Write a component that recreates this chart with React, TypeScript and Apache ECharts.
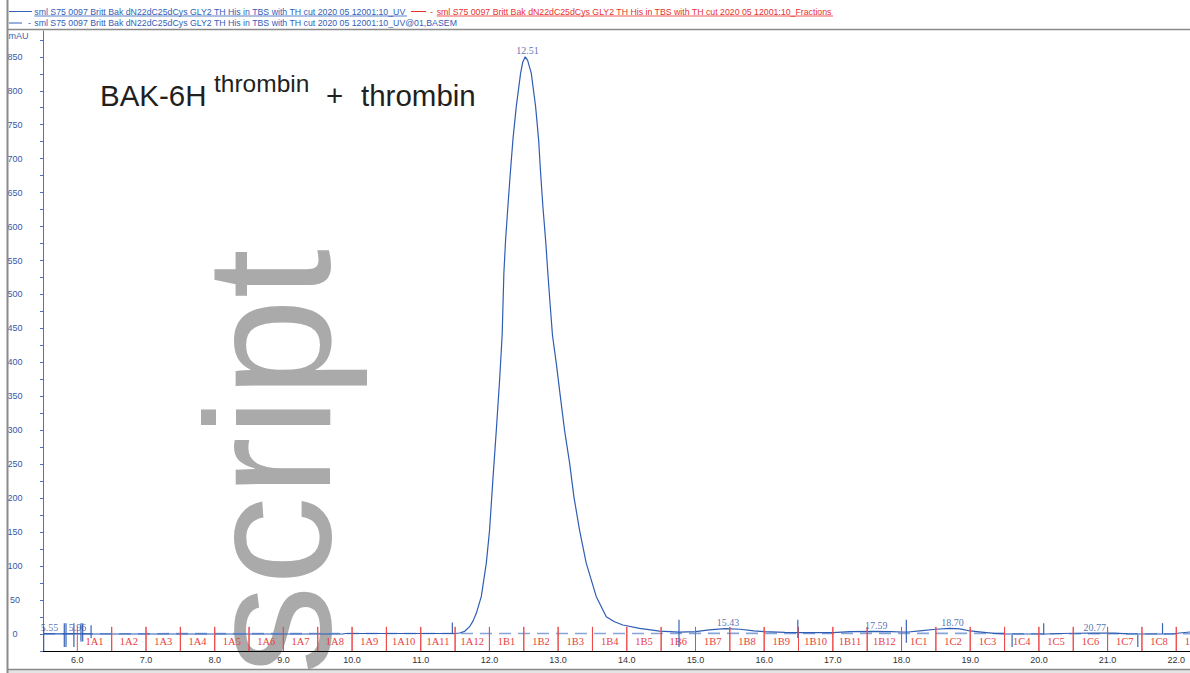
import React, { useEffect, useRef } from "react";
import * as echarts from "echarts";

// ---- data ----
const uvX = [5.5, 5.55, 5.7, 5.96, 6.2, 7.0, 8.0, 9.0, 9.87, 9.9, 11.0, 11.46, 11.5, 11.565, 11.64, 11.711, 11.76, 11.809, 11.881, 11.954, 12.002, 12.05, 12.1, 12.148, 12.185, 12.21, 12.235, 12.269, 12.304, 12.342, 12.391, 12.454, 12.485, 12.52, 12.555, 12.609, 12.672, 12.716, 12.745, 12.778, 12.818, 12.851, 12.886, 12.918, 12.973, 13.032, 13.094, 13.167, 13.23, 13.312, 13.41, 13.556, 13.701, 13.82, 13.943, 14.186, 14.477, 14.768, 15.0, 15.2, 15.43, 15.65, 15.85, 16.0, 16.3, 16.5, 17.0, 17.25, 17.59, 17.85, 18.0, 18.1, 18.3, 18.5, 18.7, 18.85, 19.0, 19.2, 19.35, 19.5, 19.6, 20.1, 20.3, 20.77, 21.1, 21.3, 21.5, 21.95, 22.05, 22.2];
const uvY = [0.3, 0.6, 0.2, 0.6, 0.2, 0, 0, 0, 0, 0.8, 0.8, 0.8, 0.8, 1.5, 4, 10.8, 19, 30.5, 55, 104, 153, 227, 300, 374, 440, 531, 580, 630, 679, 728, 777, 826, 842, 850, 845, 826, 777, 728, 679, 630, 580, 531, 482, 440, 399, 350, 300, 252, 202, 153, 104, 55, 25.5, 18, 13.3, 8.4, 4.4, 2.8, 3.5, 6, 8, 7, 4.5, 3.4, 2.5, 2, 2.2, 3.4, 4, 3.5, 3, 3, 5, 7, 8.4, 7.5, 4.5, 2.5, 1, 0.3, 0, 0, 0.8, 1.5, 1.2, 0.3, 0, 0, 1.5, 3];

const baseX = [5.5, 11.46, 19.5, 19.6, 22.2];
const baseY = [0.4, 0.8, 1.0, 0.3, 0.3];

const peakX = [5.55, 5.96, 12.51, 15.43, 17.59, 18.7, 20.77];
const peakY = [0.6, 0.6, 850, 8, 4.2, 8.4, 1.5];

const markerPos = [5.51, 5.81, 5.835, 5.95, 6.053, 6.078, 6.2, 11.46, 14.76, 16.49, 18.07, 19.61, 20.07, 21.44, 21.8];
const markerTop = [11, 16, 16, 16, 16, 16, 13, 17, 21, 21, 21, -1.5, 16, -1.5, 16];
const markerBottom = [-25, -19, -19, -19, -11, -11, -6, 1, -19, -6, -13, -19, -1.5, -19, 0];

const fractionNames = ["1A1", "1A2", "1A3", "1A4", "1A5", "1A6", "1A7", "1A8", "1A9", "1A10", "1A11", "1A12", "1B1", "1B2", "1B3", "1B4", "1B5", "1B6", "1B7", "1B8", "1B9", "1B10", "1B11", "1B12", "1C1", "1C2", "1C3", "1C4", "1C5", "1C6", "1C7", "1C8", "1C9"];
const fractionEdges = [6.0, 6.5, 7.0, 7.5, 8.0, 8.5, 9.0, 9.5, 10.0, 10.5, 11.0, 11.5, 12.0, 12.5, 13.0, 13.5, 14.0, 14.5, 15.0, 15.5, 16.0, 16.5, 17.0, 17.5, 18.0, 18.5, 19.0, 19.5, 20.0, 20.5, 21.0, 21.5, 22.0, 22.5];
const fractionTickTop = 10.5;
const fractionTickBottom = -25;
const fractionLabelLevel = -11.5;

const legendUV = "sml S75 0097 Britt Bak dN22dC25dCys GLY2 TH His in TBS with TH cut 2020 05 12001:10_UV";
const legendFrac = "sml S75 0097 Britt Bak dN22dC25dCys GLY2 TH His in TBS with TH cut 2020 05 12001:10_Fractions";
const legendBase = "sml S75 0097 Britt Bak dN22dC25dCys GLY2 TH His in TBS with TH cut 2020 05 12001:10_UV@01,BASEM";

const BLUE = "#3360b8";
const RED = "#e8322f";
const SANS = "Arial, 'Liberation Sans', sans-serif";
const SERIF = "'Liberation Serif', 'Times New Roman', serif";

function txt(x: number, y: number, text: string, font: string, fill: string, align = "left", valign = "middle", extra: any = {}) {
  return {
    type: "text",
    x,
    y,
    ...extra,
    style: { text, font, fill, align, textAlign: align, verticalAlign: valign, textVerticalAlign: valign },
  };
}
function ln(x1: number, y1: number, x2: number, y2: number, stroke: string, lineWidth = 1, z = 10) {
  return { type: "line", z, shape: { x1, y1, x2, y2 }, style: { stroke, lineWidth } };
}

export default function App() {
  const ref = useRef<HTMLDivElement>(null);
  useEffect(() => {
    if (!ref.current) return;
    const chart = echarts.init(ref.current, undefined, { renderer: "svg" });
    const uvData = uvX.map((x, i) => [x, uvY[i]]);
    const baseData = baseX.map((x, i) => [x, baseY[i]]);
    const peakData = peakX.map((x, i) => [x, peakY[i]]);
    const markerData = markerPos.map((x, i) => [x, markerTop[i], markerBottom[i]]);
    const fracData = fractionNames.map((n, i) => [fractionEdges[i], fractionEdges[i + 1], i]);

    const option: any = {
      animation: false,
      backgroundColor: "#ffffff",
      grid: { left: 43, right: 0, top: 31, bottom: 22, containLabel: false },
      xAxis: {
        type: "value",
        min: 5.5,
        max: 22.2,
        interval: 0.5,
        axisLine: { onZero: false, lineStyle: { color: "#000", width: 1 } },
        axisTick: { show: false },
        splitLine: { show: false },
        axisLabel: {
          formatter: (v: number) => (Math.abs(v - Math.round(v)) < 1e-6 ? v.toFixed(1) : ""),
          color: "#333",
          fontSize: 9,
          fontFamily: SANS,
          margin: 4,
          showMaxLabel: false,
        },
      },
      yAxis: {
        type: "value",
        min: -25,
        max: 888,
        interval: 25,
        axisLine: { show: true, onZero: false, lineStyle: { color: "#4a72c4", width: 1 } },
        axisTick: { show: true, length: 3, lineStyle: { color: "#4a72c4" } },
        splitLine: { show: false },
        axisLabel: {
          formatter: (v: number) => (v >= 0 && v % 50 === 0 ? String(v) : ""),
          align: "center",
          margin: 28,
          color: "#3558a8",
          fontSize: 9,
          fontFamily: SANS,
          showMaxLabel: false,
        },
      },
      series: [
        {
          type: "line",
          name: "BASEM",
          data: baseData,
          showSymbol: false,
          symbol: "none",
          z: 2,
          lineStyle: { color: "#86a3da", width: 1.6, type: [12, 7] },
        },
        {
          type: "line",
          name: "UV",
          data: uvData,
          showSymbol: false,
          symbol: "none",
          z: 3,
          lineStyle: { color: "#2f5db3", width: 1.2 },
        },
        {
          type: "custom",
          name: "fractions",
          data: fracData,
          z: 4,
          renderItem: (params: any, api: any) => {
            const a = api.value(0);
            const b = api.value(1);
            const idx = api.value(2);
            const t1 = api.coord([a, fractionTickTop]);
            const b1 = api.coord([a, fractionTickBottom]);
            const t2 = api.coord([b, fractionTickTop]);
            const b2 = api.coord([b, fractionTickBottom]);
            const m = api.coord([(a + b) / 2, fractionLabelLevel]);
            return {
              type: "group",
              children: [
                { type: "line", shape: { x1: t1[0], y1: t1[1], x2: b1[0], y2: b1[1] }, style: { stroke: "#ee4a4a", lineWidth: 1 } },
                { type: "line", shape: { x1: t2[0], y1: t2[1], x2: b2[0], y2: b2[1] }, style: { stroke: "#ee4a4a", lineWidth: 1 } },
                {
                  type: "text",
                  x: m[0],
                  y: m[1],
                  style: {
                    text: fractionNames[idx],
                    font: `10.5px ${SERIF}`,
                    fill: "#e8403c",
                    align: "center",
                    textAlign: "center",
                    verticalAlign: "middle",
                    textVerticalAlign: "middle",
                  },
                },
              ],
            };
          },
        },
        {
          type: "custom",
          name: "markers",
          data: markerData,
          z: 5,
          renderItem: (params: any, api: any) => {
            const x = api.value(0);
            const p1 = api.coord([x, api.value(1)]);
            const p2 = api.coord([x, api.value(2)]);
            return { type: "line", shape: { x1: p1[0], y1: p1[1], x2: p2[0], y2: p2[1] }, style: { stroke: "#3a63b6", lineWidth: 1.2 } };
          },
        },
        {
          type: "scatter",
          name: "peaks",
          data: peakData,
          symbolSize: 0,
          z: 6,
          label: {
            show: true,
            position: "top",
            distance: 1,
            offset: [3, 0],
            formatter: (p: any) => p.value[0].toFixed(2),
            color: "#2b4c9b",
            fontSize: 10,
            fontFamily: SERIF,
          },
        },
      ],
      graphic: [
        // watermark
        {
          type: "text",
          x: 268,
          y: 249,
          rotation: Math.PI / 2,
          z: -10,
          style: { text: "script", font: `178px ${SANS}`, fill: "#aaaaaa", align: "right", textAlign: "right", verticalAlign: "middle", textVerticalAlign: "middle" },
        },
        // title
        txt(100, 95, "BAK-6H", `29.5px ${SANS}`, "#231f20"),
        txt(214, 83.5, "thrombin", `24.5px ${SANS}`, "#231f20"),
        txt(326, 95, "+", `29.5px ${SANS}`, "#231f20"),
        txt(361, 95, "thrombin", `29.5px ${SANS}`, "#231f20"),
        // frame
        ln(7.5, 0, 7.5, 673, "#8a8a8a", 2),
        ln(7, 29.5, 1190, 29.5, "#8a8a8a", 1.5),
        { type: "rect", z: 9, shape: { x: 7, y: 669, width: 1183, height: 4 }, style: { fill: "#e4e4e4" } },
        ln(7, 669.5, 1190, 669.5, "#8a8a8a", 1.5),
        // legend row 1
        ln(9, 11.5, 32, 11.5, BLUE, 1),
        txt(34.3, 11.5, legendUV, `8.75px ${SANS}`, BLUE),
        ln(34.3, 16, 407, 16, BLUE, 0.8),
        ln(411, 11.5, 426, 11.5, RED, 1),
        txt(430, 11.5, "-", `8.75px ${SANS}`, RED),
        txt(436.7, 11.5, legendFrac, `8.75px ${SANS}`, RED),
        ln(436.7, 16, 833, 16, RED, 0.8),
        // legend row 2
        ln(9, 23, 22, 23, BLUE, 1),
        txt(28, 23, "-", `8.75px ${SANS}`, BLUE),
        txt(34.3, 23, legendBase, `8.75px ${SANS}`, BLUE),
        // y unit
        txt(8.5, 35.5, "mAU", `9px ${SANS}`, "#3d5fb0"),
      ],
    };
    chart.setOption(option);
    return () => chart.dispose();
  }, []);
  return (
    <div
      ref={ref}
      style={{ position: "fixed", left: 0, top: 0, width: 1190, height: 673, background: "#fff" }}
    />
  );
}
